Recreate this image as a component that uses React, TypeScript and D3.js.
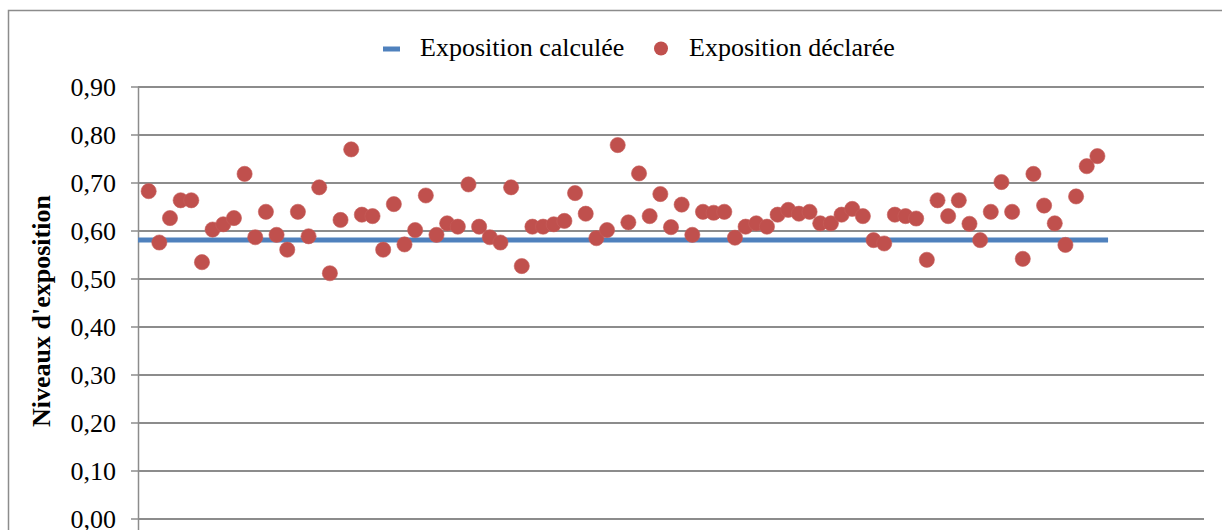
import React from "react";
import * as d3 from "d3";

// Exposition déclarée (one point per observation, x = 1..90)
const declaree: number[] = [
  0.683, 0.576, 0.627, 0.664, 0.664, 0.535, 0.603, 0.614, 0.627, 0.719,
  0.587, 0.640, 0.592, 0.561, 0.640, 0.589, 0.691, 0.512, 0.623, 0.770,
  0.634, 0.631, 0.561, 0.656, 0.572, 0.602, 0.674, 0.592, 0.616, 0.609,
  0.697, 0.609, 0.587, 0.576, 0.691, 0.527, 0.609, 0.609, 0.614, 0.621,
  0.679, 0.636, 0.585, 0.602, 0.779, 0.618, 0.720, 0.631, 0.677, 0.608,
  0.655, 0.592, 0.640, 0.638, 0.640, 0.586, 0.609, 0.616, 0.609, 0.634,
  0.644, 0.636, 0.640, 0.616, 0.616, 0.634, 0.646, 0.631, 0.581, 0.574,
  0.634, 0.631, 0.626, 0.540, 0.664, 0.631, 0.664, 0.615, 0.581, 0.640,
  0.702, 0.640, 0.542, 0.719, 0.653, 0.616, 0.571, 0.672, 0.735, 0.756,
];

// Exposition calculée (constant level line)
const calculeeX: number[] = [0, 91];
const calculeeY: number[] = [0.581, 0.581];

const yTicks: number[] = [0, 0.1, 0.2, 0.3, 0.4, 0.5, 0.6, 0.7, 0.8, 0.9];
const legendLabels: string[] = ["Exposition calculée", "Exposition déclarée"];
const yTitle = "Niveaux d'exposition";

const W = 1222;
const H = 530;
const FONT = "'Liberation Serif', 'Times New Roman', Times, serif";
const RED = "#C0504D";
const BLUE = "#4F81BD";
const GRID = "#8c8c8c";

export default function App() {
  const x = d3.scaleLinear().domain([0, 100]).range([138, 1204]);
  const y = d3.scaleLinear().domain([0, 0.9]).range([519, 87]);
  const fmt = (v: number) => d3.format(".2f")(v).replace(".", ",");

  const line = d3
    .line<number>()
    .x((_, i) => x(calculeeX[i]))
    .y((d) => y(d));

  return (
    <svg
      width={W}
      height={H}
      style={{ position: "absolute", left: 0, top: 0, background: "#fff" }}
      fontFamily={FONT}
    >
      <rect x={0} y={0} width={W} height={H} fill="#fff" />
      {/* outer chart border */}
      <rect x={8.5} y={10.5} width={1230} height={540} fill="none" stroke={GRID} strokeWidth={1.5} />

      {/* gridlines */}
      {yTicks.map((t) => (
        <line key={"g" + t} x1={138} x2={1204} y1={y(t)} y2={y(t)} stroke={GRID} strokeWidth={2} />
      ))}
      {/* tick marks */}
      {yTicks.map((t) => (
        <line key={"t" + t} x1={131} x2={138} y1={y(t)} y2={y(t)} stroke={GRID} strokeWidth={1.5} />
      ))}
      {/* y axis */}
      <line x1={138.5} x2={138.5} y1={y(0.9)} y2={H} stroke={GRID} strokeWidth={1.5} />
      {/* tick labels */}
      {yTicks.map((t) => (
        <text
          key={"l" + t}
          x={116}
          y={y(t)}
          dy="0.33em"
          textAnchor="end"
          fontSize={26}
          fill="#000"
        >
          {fmt(t)}
        </text>
      ))}

      {/* y axis title */}
      <text
        transform={`translate(50, ${y(0.45) + 8}) rotate(-90)`}
        textAnchor="middle"
        fontSize={26}
        fontWeight="bold"
        fill="#000"
      >
        {yTitle}
      </text>

      {/* calculated line */}
      <path d={line(calculeeY) || ""} fill="none" stroke={BLUE} strokeWidth={5} />

      {/* declared points */}
      {declaree.map((v, i) => (
        <circle key={"p" + i} cx={x(i + 1)} cy={y(v)} r={7.6} fill={RED} stroke="#c65e5b" strokeWidth={0.6} />
      ))}

      {/* legend */}
      <line x1={383} x2={400} y1={49} y2={49} stroke={BLUE} strokeWidth={5} />
      <text x={420} y={56} fontSize={26} fill="#000">
        {legendLabels[0]}
      </text>
      <circle cx={661} cy={48.5} r={7} fill={RED} />
      <text x={689} y={56} fontSize={26} fill="#000">
        {legendLabels[1]}
      </text>
    </svg>
  );
}
